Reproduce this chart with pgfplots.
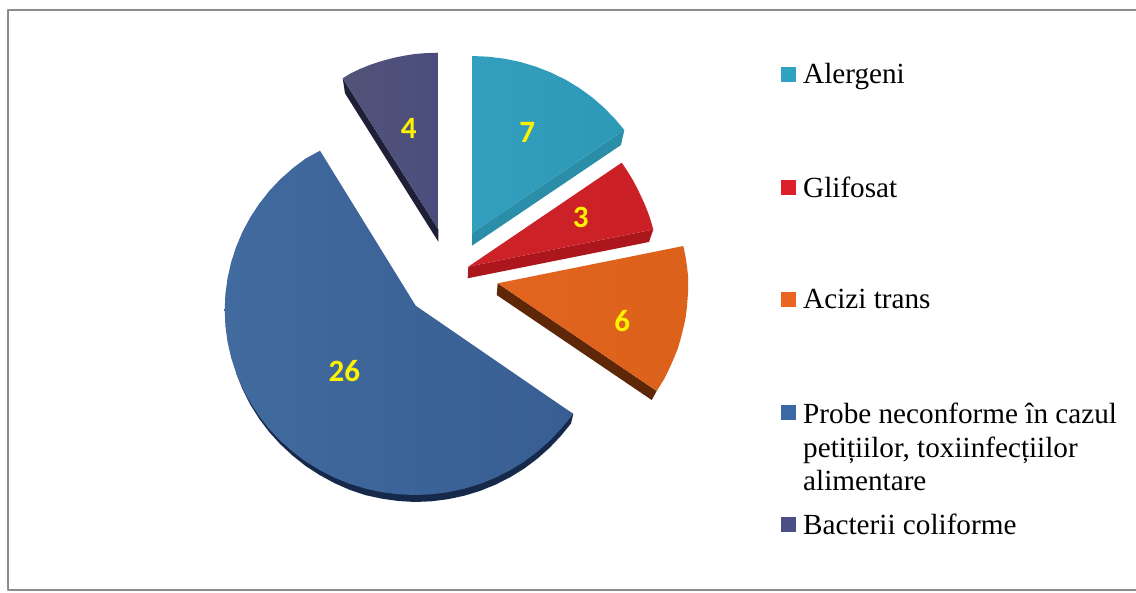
\documentclass[border=0pt]{standalone}
\usepackage{fontspec}
\usepackage{pgfplots}
\pgfplotsset{compat=1.18}
\setmainfont{Liberation Serif}
\newfontfamily\labfont{Carlito}
\definecolor{tealA}{HTML}{339FBE}\definecolor{tealB}{HTML}{2E99B6}\definecolor{tealS}{HTML}{2A8EA9}\definecolor{tealL}{HTML}{30A3C2}
\definecolor{redA}{HTML}{CE2229}\definecolor{redB}{HTML}{CC2027}\definecolor{redS}{HTML}{AB171D}\definecolor{redL}{HTML}{DD1F2B}
\definecolor{orA}{HTML}{E1651F}\definecolor{orB}{HTML}{DC611A}\definecolor{orS}{HTML}{5E2708}\definecolor{orL}{HTML}{EA6520}
\definecolor{blA}{HTML}{416A9F}\definecolor{blB}{HTML}{385E93}\definecolor{blS}{HTML}{16294A}\definecolor{blL}{HTML}{3A69A6}
\definecolor{puA}{HTML}{525379}\definecolor{puB}{HTML}{4B4E7D}\definecolor{puS}{HTML}{1F2038}\definecolor{puL}{HTML}{4A4F85}
\begin{document}
\begin{tikzpicture}
\begin{axis}[
  scale only axis, width=1136pt, height=593pt,
  xmin=0, xmax=1136, ymin=0, ymax=593, y dir=reverse,
  axis lines=none, clip=true,
  every axis plot/.append style={line join=round},
]
% page background keeps the full picture size
\addplot[fill=white, draw=none] coordinates {(0,0) (1136,0) (1136,593) (0,593)} -- cycle;
% frame
\addplot[draw=black!45, line width=2pt] coordinates {(1145,10) (7.5,10) (7.5,590) (1145,590)};

% Bacterii coliforme (4): side then top
\addplot[fill=puS, draw=none] coordinates {(342.7,78.3) (438.3,229.3) (438.3,241.7) (345,93.3)} -- cycle;
\addplot[left color=puA, right color=puB, draw=none] coordinates {(438.3,229.3) (438.3,52.7) (426.9,53.1) (415.5,53.9) (404.2,55.7) (393.1,58) (382.1,60.9) (371.3,64.4) (360.8,68.6) (350.6,73.4) (342.7,78.3)} -- cycle;

% Alergeni (7)
\addplot[fill=tealS, draw=none] coordinates {(472,233) (624.3,130) (621,145) (472,245.7)} -- cycle;
\addplot[left color=tealA, right color=tealB, draw=none] coordinates {(472,233) (472,56) (488.3,56.7) (504.5,58.7) (520.4,62) (536,66.7) (551,72.6) (565.5,79.7) (579.3,88) (592.2,97.4) (604.2,107.8) (615.2,119.2) (624.3,130)} -- cycle;

% Glifosat (3)
\addplot[fill=redS, draw=none] coordinates {(468.3,266.7) (653.3,229.5) (649,242) (467.7,278.3)} -- cycle;
\addplot[left color=redA, right color=redB, draw=none] coordinates {(468.3,266.7) (621.7,162.7) (627.3,171) (632.5,179.5) (637.2,188.2) (641.4,197) (644.8,204.5) (647.8,212) (650.8,220.7) (653.3,229.5)} -- cycle;

% Acizi trans (6)
\addplot[fill=orS, draw=none] coordinates {(497.7,283.3) (656.7,391) (651.7,400) (496.7,295)} -- cycle;
\addplot[left color=orA, right color=orB, draw=none] coordinates {(497.7,283.3) (683.3,246) (685.5,256.3) (687,266.7) (688,275) (688.2,283.3) (688.1,291.6) (687.5,299.9) (686.8,308.2) (685.8,316.5) (684.2,324.6) (682.2,332.7) (680.1,340.8) (677.7,348.8) (674.6,356.5) (671.3,364.2) (667.8,371.8) (664,379.3) (656.7,391)} -- cycle;

% Probe neconforme (26)
\addplot[fill=blS, draw=none] coordinates {(415.7,312.7) (236.2,373.3) (242.5,389.2) (250.2,404.5) (259.1,418.6) (269.2,432) (280.4,444.3) (292.7,455.7) (305.8,466.1) (319.9,475.2) (334.6,483.2) (349.9,489.9) (365.7,495.2) (381.9,498.7) (398.4,501) (415,502) (431.6,501.3) (448.1,499.2) (464.3,495.7) (480.1,490.9) (495.4,484.7) (510.2,477.2) (524.2,468.6) (537.3,458.7) (549.6,447.8) (560.8,436) (571,423.5) (573.3,414)} -- cycle;
\addplot[left color=blA, right color=blB, draw=none] coordinates {(415.7,305.7) (320,150.7) (305.8,158.4) (292.7,168.3) (280.4,179.2) (269.2,191) (259.1,203.9) (250.2,217.5) (242.5,231.8) (236.2,246.7) (231.2,262.1) (227.6,277.9) (225.4,293.9) (224.7,310) (225.4,326.1) (227.6,342.1) (231.2,357.9) (236.2,373.3) (242.5,388.2) (250.2,402.5) (259.1,416.1) (269.2,429) (280.4,440.8) (292.7,451.7) (305.8,461.6) (319.9,470.2) (334.6,477.7) (349.9,483.9) (365.7,488.7) (381.9,492.2) (398.4,494.3) (415,495) (431.6,494.3) (448.1,492.2) (464.3,488.7) (480.1,483.9) (495.4,477.7) (510.2,470.2) (524.2,461.6) (537.3,451.7) (549.6,440.8) (560.8,429) (573.3,414)} -- cycle;

% value labels
\addplot[draw=none, mark=none, point meta=explicit symbolic,
  nodes near coords, every node near coord/.style={anchor=center, inner sep=0pt, text=yellow, font=\labfont\bfseries\fontsize{31}{31}\selectfont}]
  coordinates {(408.7,128.3)[4] (527.3,132.3)[7] (580.7,217.3)[3] (622.3,320.7)[6] (344.3,370.7)[26]};

% legend swatches
\addplot[fill=tealL, draw=none] coordinates {(781,67.3) (796,67.3) (796,82) (781,82)} -- cycle;
\addplot[fill=redL, draw=none] coordinates {(781,180) (796,180) (796,195) (781,195)} -- cycle;
\addplot[fill=orL, draw=none] coordinates {(781,292.3) (796,292.3) (796,307) (781,307)} -- cycle;
\addplot[fill=blL, draw=none] coordinates {(781,405) (796,405) (796,420) (781,420)} -- cycle;
\addplot[fill=puL, draw=none] coordinates {(781,517.3) (796,517.3) (796,532) (781,532)} -- cycle;

% legend text
\begin{scope}[every node/.style={anchor=base west, inner sep=0pt, font=\fontsize{29.2}{34}\selectfont, text=black}]
\node at (axis cs:803,84) {Alergeni};
\node at (axis cs:803,197.4) {Glifosat};
\node at (axis cs:803,309) {Acizi trans};
\node at (axis cs:803,423.4) {Probe neconforme în cazul};
\node at (axis cs:803,457.4) {petițiilor, toxiinfecțiilor};
\node at (axis cs:803,490.7) {alimentare};
\node at (axis cs:803,534) {Bacterii coliforme};
\end{scope}
\end{axis}
\end{tikzpicture}
\end{document}
